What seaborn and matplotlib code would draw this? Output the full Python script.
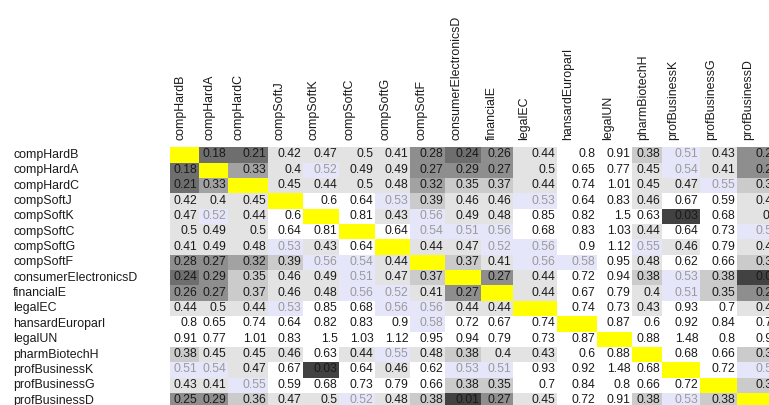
import numpy as np
import pandas as pd
import matplotlib
matplotlib.use("Agg")
import matplotlib.pyplot as plt
import matplotlib.colors as mcolors
import matplotlib.transforms as mtransforms
import seaborn as sns

# domain names (rows and columns share the same order)
domains = ["compHardB", "compHardA", "compHardC", "compSoftJ", "compSoftK",
           "compSoftC", "compSoftG", "compSoftF", "consumerElectronicsD",
           "financialE", "legalEC", "hansardEuroparl", "legalUN",
           "pharmBiotechH", "profBusinessK", "profBusinessG", "profBusinessD"]

# pairwise distances, diagonal left empty
dist = [
    [None, 0.18, 0.21, 0.42, 0.47, 0.5, 0.41, 0.28, 0.24, 0.26, 0.44, 0.8, 0.91, 0.38, 0.51, 0.43, 0.25],
    [0.18, None, 0.33, 0.4, 0.52, 0.49, 0.49, 0.27, 0.29, 0.27, 0.5, 0.65, 0.77, 0.45, 0.54, 0.41, 0.29],
    [0.21, 0.33, None, 0.45, 0.44, 0.5, 0.48, 0.32, 0.35, 0.37, 0.44, 0.74, 1.01, 0.45, 0.47, 0.55, 0.36],
    [0.42, 0.4, 0.45, None, 0.6, 0.64, 0.53, 0.39, 0.46, 0.46, 0.53, 0.64, 0.83, 0.46, 0.67, 0.59, 0.47],
    [0.47, 0.52, 0.44, 0.6, None, 0.81, 0.43, 0.56, 0.49, 0.48, 0.85, 0.82, 1.5, 0.63, 0.03, 0.68, 0.5],
    [0.5, 0.49, 0.5, 0.64, 0.81, None, 0.64, 0.54, 0.51, 0.56, 0.68, 0.83, 1.03, 0.44, 0.64, 0.73, 0.52],
    [0.41, 0.49, 0.48, 0.53, 0.43, 0.64, None, 0.44, 0.47, 0.52, 0.56, 0.9, 1.12, 0.55, 0.46, 0.79, 0.48],
    [0.28, 0.27, 0.32, 0.39, 0.56, 0.54, 0.44, None, 0.37, 0.41, 0.56, 0.58, 0.95, 0.48, 0.62, 0.66, 0.38],
    [0.24, 0.29, 0.35, 0.46, 0.49, 0.51, 0.47, 0.37, None, 0.27, 0.44, 0.72, 0.94, 0.38, 0.53, 0.38, 0.01],
    [0.26, 0.27, 0.37, 0.46, 0.48, 0.56, 0.52, 0.41, 0.27, None, 0.44, 0.67, 0.79, 0.4, 0.51, 0.35, 0.27],
    [0.44, 0.5, 0.44, 0.53, 0.85, 0.68, 0.56, 0.56, 0.44, 0.44, None, 0.74, 0.73, 0.43, 0.93, 0.7, 0.45],
    [0.8, 0.65, 0.74, 0.64, 0.82, 0.83, 0.9, 0.58, 0.72, 0.67, 0.74, None, 0.87, 0.6, 0.92, 0.84, 0.72],
    [0.91, 0.77, 1.01, 0.83, 1.5, 1.03, 1.12, 0.95, 0.94, 0.79, 0.73, 0.87, None, 0.88, 1.48, 0.8, 0.91],
    [0.38, 0.45, 0.45, 0.46, 0.63, 0.44, 0.55, 0.48, 0.38, 0.4, 0.43, 0.6, 0.88, None, 0.68, 0.66, 0.38],
    [0.51, 0.54, 0.47, 0.67, 0.03, 0.64, 0.46, 0.62, 0.53, 0.51, 0.93, 0.92, 1.48, 0.68, None, 0.72, 0.53],
    [0.43, 0.41, 0.55, 0.59, 0.68, 0.73, 0.79, 0.66, 0.38, 0.35, 0.7, 0.84, 0.8, 0.66, 0.72, None, 0.38],
    [0.25, 0.29, 0.36, 0.47, 0.5, 0.52, 0.48, 0.38, 0.01, 0.27, 0.45, 0.72, 0.91, 0.38, 0.53, 0.38, None],
]

# colour bins: greys for close pairs, lavender for borderline, white above
bin_edges = [0, 0.1, 0.25, 0.3, 0.35, 0.4, 0.505, 0.585, 2.0]
bin_colors = ["#424242", "#6e6e6e", "#8e8e8e", "#a2a2a2", "#cbcbcb",
              "#e3e3e3", "#e6e6fa", "#ffffff"]

# column edges in pixels (table columns have uneven widths)
col_px = [170, 199, 228, 268, 303, 339, 375, 410, 445, 481, 513, 557,
          597, 632, 662, 700, 737, 781]

W, H = 769, 405
row_top, row_h = 147.3, 15.35

df = pd.DataFrame(np.array(dist, dtype=float), index=domains, columns=domains)

plt.rcParams['font.family'] = ['Liberation Sans', 'DejaVu Sans']

fig = plt.figure(figsize=(W / 100, H / 100), dpi=100)
fig.patch.set_facecolor('white')
n = len(domains)
ax = fig.add_axes([col_px[0] / W, 1 - (row_top + n * row_h) / H,
                   (col_px[-1] - col_px[0]) / W, n * row_h / H])

cmap = mcolors.ListedColormap(bin_colors)
cmap.set_bad('#ffff00')
norm = mcolors.BoundaryNorm(bin_edges, cmap.N)

sns.heatmap(df, cmap=cmap, norm=norm, cbar=False, annot=False,
            linewidths=0, ax=ax)
ax.set_facecolor('#ffff00')

# uneven column widths through a piecewise-linear x scale
idx = np.arange(n + 1)
edges = np.array(col_px, dtype=float)
ax.set_xscale('function', functions=(lambda x: np.interp(x, idx, edges),
                                     lambda p: np.interp(p, edges, idx)))
ax.set_xlim(0, n)
ax.set_ylim(n, 0)

# right-aligned cell values
txt_tr = mtransforms.offset_copy(ax.transData, fig=fig, x=-1.5, y=0.5, units='dots')
for i in range(n):
    for j in range(n):
        v = df.iat[i, j]
        if np.isnan(v):
            continue
        col = '#9a9a9a' if 0.505 < v < 0.585 else '#1a1a1a'
        ax.text(j + 1, i + 0.5, f"{v:g}", transform=txt_tr, ha='right',
                va='center', fontsize=8.7, color=col)

# column labels on top, near the left of each column
ax.xaxis.tick_top()
ax.set_xticks([j + 11.0 / (col_px[j + 1] - col_px[j]) for j in range(n)])
ax.set_xticklabels(domains, rotation=90, fontsize=8.9, color='#1a1a1a')
ax.tick_params(axis='x', length=0, pad=5)

# row labels flush left at the figure edge
ax.set_yticks(np.arange(n) + 0.5)
ax.set_yticklabels(domains, rotation=0, fontsize=8.9, color='#1a1a1a')
for lab in ax.get_yticklabels():
    lab.set_ha('left')
ax.tick_params(axis='y', length=0, pad=(col_px[0] - 13) * 0.72)

ax.set_xlabel('')
ax.set_ylabel('')
for s in ax.spines.values():
    s.set_visible(False)

fig.savefig('out.png', dpi=100)
